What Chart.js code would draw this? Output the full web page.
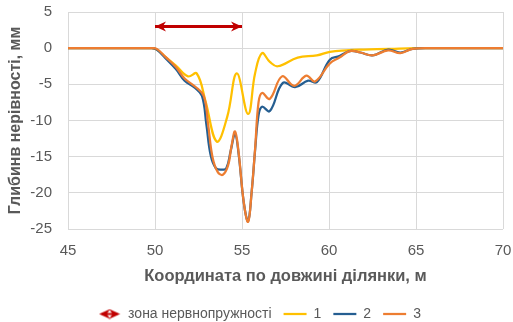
<!DOCTYPE html>
<html>
<head>
<meta charset="utf-8">
<script src="https://cdn.jsdelivr.net/npm/chart.js@4.4.1/dist/chart.umd.min.js"></script>
<style>
  html, body { margin: 0; padding: 0; background: #fff; }
  #wrap { width: 513px; height: 322px; }
</style>
</head>
<body>
<div id="wrap"><canvas id="c" width="513" height="322"></canvas></div>
<script>
// Series 1
const x1 = [45, 46, 47, 48, 49, 49.8, 50.1, 50.6, 51.2, 51.9, 52.4, 52.9, 53.55, 54.15, 54.7, 55.35, 55.75, 56.15, 56.6, 57.05, 58.2, 59.3, 60.05, 61, 62, 63.5, 65, 66, 67, 68, 69, 70];
const y1 = [0, 0, 0, 0, 0, 0, -0.2, -1.2, -2.4, -3.9, -3.5, -7.3, -12.9, -9.5, -3.5, -9.1, -3.5, -0.7, -1.9, -2.5, -1.3, -1.0, -0.5, -0.3, -0.2, -0.1, 0, 0, 0, 0, 0, 0];
// Series 2
const x2 = [45, 46, 47, 48, 49, 49.8, 50.1, 50.6, 51.2, 51.7, 52.3, 52.7, 52.95, 53.2, 53.5, 53.8, 54.1, 54.35, 54.6, 54.8, 55.1, 55.35, 55.55, 55.75, 55.95, 56.15, 56.6, 57.35, 58.05, 58.8, 59.3, 60.05, 60.6, 61.2, 61.8, 62.5, 63.4, 64.1, 64.8, 66, 67, 68, 69, 70];
const y2 = [0, 0, 0, 0, 0, 0, -0.2, -1.4, -2.9, -4.5, -5.5, -6.6, -10.5, -14.8, -16.6, -16.8, -16.6, -14.2, -11.9, -14.5, -21.3, -23.9, -20, -14.2, -9.3, -8.1, -8.7, -4.8, -5.4, -4.5, -4.7, -1.6, -1.1, -0.4, -0.6, -1.0, -0.2, -0.6, -0.1, 0, 0, 0, 0, 0];
// Series 3
const x3 = [45, 46, 47, 48, 49, 49.8, 50.1, 50.6, 51.2, 51.7, 52.3, 52.8, 53.05, 53.3, 53.6, 53.9, 54.2, 54.4, 54.6, 54.8, 55.1, 55.35, 55.55, 55.75, 55.95, 56.15, 56.6, 57.3, 58.0, 58.7, 59.2, 60.05, 60.6, 61.2, 61.8, 62.5, 63.4, 64.1, 64.8, 66, 67, 68, 69, 70];
const y3 = [0, 0, 0, 0, 0, 0, -0.1, -1.2, -2.6, -4.2, -5.3, -6.6, -10.5, -15.0, -17.1, -17.5, -16.2, -13.5, -11.5, -14.3, -21.3, -24.0, -20, -14.0, -7.5, -6.2, -7.0, -3.9, -5.2, -3.8, -4.6, -2.1, -1.3, -0.4, -0.6, -1.0, -0.3, -0.7, -0.1, 0, 0, 0, 0, 0];
// Zone marker: start, end, level
const zoneX = [50, 55];
const zoneY = [3, 3];

const seriesNames = ['1', '2', '3'];
const zoneName = 'зона нервнопружності';
const xTicks = [45, 50, 55, 60, 65, 70];
const yTicks = [5, 0, -5, -10, -15, -20, -25];

const RED = '#C00000';
const toPts = (xs, ys) => xs.map((x, i) => ({ x, y: ys[i] }));

// Stealth-style arrowhead with tip at (x,y) pointing in direction dir (+1 right, -1 left)
function arrowHead(ctx, x, y, dir, len, half) {
  ctx.beginPath();
  ctx.moveTo(x, y);
  ctx.lineTo(x - dir * len, y - half);
  ctx.lineTo(x - dir * len * 0.7, y);
  ctx.lineTo(x - dir * len, y + half);
  ctx.closePath();
  ctx.fill();
}

// Legend icon for the zone marker
const zoneIcon = document.createElement('canvas');
zoneIcon.width = 22; zoneIcon.height = 11;
(function () {
  const g = zoneIcon.getContext('2d');
  g.fillStyle = RED;
  g.strokeStyle = RED;
  arrowHead(g, 0.5, 5.5, -1, 11, 5);
  arrowHead(g, 21.5, 5.5, 1, 11, 5);
  g.lineWidth = 2;
  g.beginPath(); g.moveTo(3, 5.5); g.lineTo(19, 5.5); g.stroke();
})();

const arrowPlugin = {
  id: 'zoneArrows',
  afterDatasetsDraw(chart) {
    const meta = chart.getDatasetMeta(0);
    if (!meta || meta.hidden) return;
    const pts = meta.data;
    const ctx = chart.ctx;
    ctx.save();
    ctx.fillStyle = RED;
    const a = pts[0], b = pts[pts.length - 1];
    const dir = b.x > a.x ? 1 : -1;
    arrowHead(ctx, a.x, a.y, -dir, 11, 5);
    arrowHead(ctx, b.x, b.y, dir, 11, 5);
    ctx.restore();
  }
};

// Nudge the legend row a little to the right
const legendShift = {
  id: 'legendShift',
  afterLayout(chart) {
    if (chart.legend) { chart.legend.left += 8; chart.legend.right += 8; }
  }
};

const FONT = '"Liberation Sans", Arial, sans-serif';
const GREY = '#595959';

new Chart(document.getElementById('c'), {
  type: 'line',
  data: {
    datasets: [
      { label: zoneName, data: toPts(zoneX, zoneY), borderColor: RED, backgroundColor: RED,
        borderWidth: 3, pointRadius: 0, tension: 0, order: 0, pointStyle: zoneIcon, borderCapStyle: 'butt' },
      { label: seriesNames[0], data: toPts(x1, y1), borderColor: '#FFC000', backgroundColor: '#FFC000',
        borderWidth: 2.25, pointRadius: 0, tension: 0.4, order: 3, pointStyle: 'line' },
      { label: seriesNames[1], data: toPts(x2, y2), borderColor: '#255E91', backgroundColor: '#255E91',
        borderWidth: 2.25, pointRadius: 0, tension: 0.4, order: 2, pointStyle: 'line' },
      { label: seriesNames[2], data: toPts(x3, y3), borderColor: '#ED7D31', backgroundColor: '#ED7D31',
        borderWidth: 2.25, pointRadius: 0, tension: 0.4, order: 1, pointStyle: 'line' }
    ]
  },
  options: {
    responsive: false,
    animation: false,
    devicePixelRatio: 1,
    layout: { padding: { top: 12, right: 10, left: 0, bottom: -9 } },
    scales: {
      x: {
        type: 'linear', min: 45, max: 70,
        afterBuildTicks(s) { s.ticks = xTicks.map(v => ({ value: v })); },
        afterFit(s) { s.height = 66; s.paddingLeft = 0; s.paddingRight = 0; },
        grid: { color: '#D9D9D9', lineWidth: 1, drawTicks: false },
        border: { display: false },
        ticks: { color: GREY, font: { family: FONT, size: 15 }, padding: 13, maxRotation: 0 },
        title: { display: true, text: 'Координата по довжині ділянки, м', color: GREY,
                 font: { family: FONT, size: 16.5, weight: 'bold' }, padding: { top: 4, bottom: 9 } }
      },
      y: {
        type: 'linear', min: -25, max: 5,
        afterBuildTicks(s) { s.ticks = yTicks.map(v => ({ value: v })); },
        afterFit(s) { s.width = 68; s.paddingTop = 0; s.paddingBottom = 0; },
        grid: { color: '#D9D9D9', lineWidth: 1, drawTicks: false },
        border: { display: false },
        ticks: { color: GREY, font: { family: FONT, size: 15 }, padding: 16 },
        title: { display: true, text: 'Глибинв нерівності, мм', color: GREY,
                 font: { family: FONT, size: 16, weight: 'bold' }, padding: { top: 6, bottom: 0 } }
      }
    },
    plugins: {
      legend: {
        position: 'bottom',
        labels: {
          usePointStyle: true, pointStyleWidth: 23, color: GREY,
          font: { family: FONT, size: 14 }, padding: 12,
          sort: (a, b) => a.datasetIndex - b.datasetIndex
        }
      },
      tooltip: { enabled: false }
    }
  },
  plugins: [arrowPlugin, legendShift]
});
</script>
</body>
</html>
